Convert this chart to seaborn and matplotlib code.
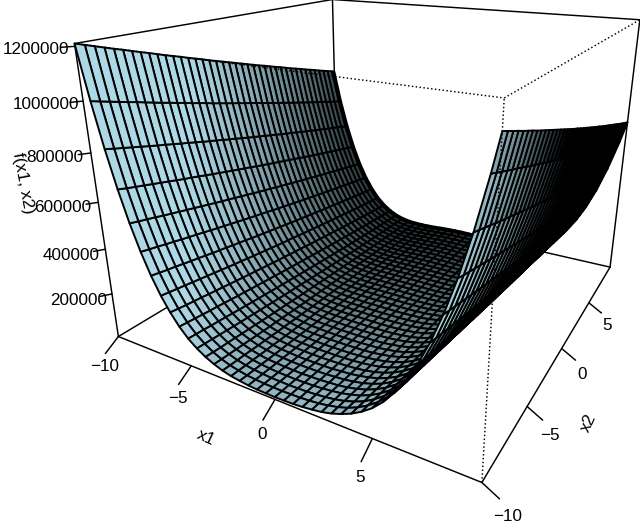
import numpy as np
import matplotlib
matplotlib.use("Agg")
import matplotlib.pyplot as plt
from mpl_toolkits.mplot3d import proj3d
import seaborn as sns

# grid positions, z read in thousands
x_grid = [-10,-9.5,-9,-8.5,-8,-7.5,-7,-6.5,-6,-5.5,-5,-4.5,-4,-3.5,-3,-2.5,-2,-1.5,-1,-0.5,0,
          0.5,1,1.5,2,2.5,3,3.5,4,4.5,5,5.5,6,6.5,7,7.5,8,8.5,9,9.5,9.8]

r100 = [1210,1199,1188,1177,1166,1156,1145,1134,1124,1113,1102,1092,1082,1071,1061,1051,1040,1030,1020,1010,1000,990,980,970,960,951,941,931,922,912,902,893,884,874,865,856,846,837,828,819,814]
r98 = [1124,1114,1103,1093,1082,1072,1062,1051,1041,1031,1021,1011,1001,991,981,971,961,951,942,932,922,913,903,894,884,875,866,856,847,838,829,820,811,802,793,784,775,766,758,749,744]
r95 = [1005,995,985,975,965,956,946,936,926,917,907,898,888,879,870,860,851,842,833,824,815,806,797,788,779,770,761,753,744,735,727,718,710,701,693,685,677,668,660,652,647]
r90 = [828,819,810,801,792,783,774,766,757,748,740,731,722,714,706,697,689,681,672,664,656,648,640,632,624,616,608,601,593,585,578,570,562,555,548,540,533,526,518,511,507]
r85 = [677,668,660,652,644,636,628,620,612,605,597,589,581,574,566,559,551,544,537,529,522,515,508,501,494,487,480,473,466,459,452,446,439,432,426,419,413,406,400,394,390]
r80 = [548,540,533,526,518,511,504,497,490,483,476,469,462,456,449,442,436,429,422,416,410,403,397,391,384,378,372,366,360,354,348,342,336,331,325,319,314,308,302,297,294]
r75 = [439,432,426,419,413,406,400,394,388,381,375,369,363,357,351,345,339,334,328,322,316,311,305,300,294,289,284,278,273,268,263,258,253,248,243,238,233,228,223,219,216]
r70 = [348,342,336,331,325,319,314,308,302,297,292,286,281,276,270,265,260,255,250,245,240,235,230,226,221,216,212,207,202,198,194,189,185,181,176,172,168,164,160,156,154]
r65 = [273,268,263,258,253,248,243,238,233,228,223,219,214,209,205,200,196,191,187,183,179,174,170,166,162,158,154,150,146,143,139,135,131,128,124,121,117,114,111,107,105]
r60 = [212,207,202,198,194,189,185,181,176,172,168,164,160,156,152,148,144,141,137,133,130,126,122,119,116,112,109,106,102,99,96,93,90,87,84,81,78,76,73,70,69]
r55 = [162,158,154,150,146,143,139,135,131,128,124,121,117,114,111,107,104,101,98,95,92,89,86,83,80,77,74,72,69,66,64,61,59,56,54,52,50,47,45,43,42]
r50 = [122,119,116,112,109,106,102,99,96,93,90,87,84,81,78,76,73,70,68,65,62,60,58,55,53,51,48,46,44,42,40,38,36,34,32,31,29,27,26,24,23]
r45 = [92,89,86,83,80,77,74,72,69,66,64,61,59,56,54,52,50,47,45,43,41,39,37,35,33,32,30,28,26,25,23,22,20,19,18,16,15,14,13,12,11]
r40 = [68,65,62,60,58,55,53,51,48,46,44,42,40,38,36,34,32,31,29,27,26,24,22,21,20,18,17,16,14,13,12,11,10,9,8,7,6,6,5,4,4]
r35 = [50,47,45,43,41,39,37,35,33,32,30,28,26,25,23,22,20,19,18,16,15,14,13,12,11,10,9,8,7,6,5,5,4,3,3,2,2,1,1,1,1]
r30 = [36,34,32,31,29,27,26,24,22,21,20,18,17,16,14,13,12,11,10,9,8,7,6,6,5,4,4,3,3,2,2,1,1,1,0,0,0,0,0,0,0]
r25 = [26,25,23,22,20,19,18,16,15,14,13,12,11,10,9,8,7,6,5,5,4,3,3,2,2,1,1,1,1,0,0,0,0,0,0,0,0,1,1,1,1]
r20 = [20,18,17,16,14,13,12,11,10,9,8,7,6,6,5,4,4,3,3,2,2,1,1,1,0,0,0,0,0,0,0,0,0,1,1,1,2,2,3,3,3]
r15 = [15,14,13,12,11,10,9,8,7,6,5,5,4,3,3,2,2,1,1,1,1,0,0,0,0,0,0,0,0,1,1,1,1,2,2,3,3,4,5,5,6]
r10 = [12,11,10,9,8,7,6,6,5,4,4,3,3,2,2,1,1,1,0,0,0,0,0,0,0,0,0,1,1,1,2,2,3,3,4,4,5,6,6,7,8]
r05 = [11,10,9,8,7,6,5,5,4,3,3,2,2,1,1,1,1,0,0,0,0,0,0,0,0,1,1,1,1,2,2,3,3,4,5,5,6,7,8,9,9]
r00 = [10,9,8,7,6,6,5,4,4,3,3,2,2,1,1,1,0,0,0,0,0,0,0,0,0,1,1,1,2,2,3,3,4,4,5,6,6,7,8,9,10]
z_rows = [r100,r95,r90,r85,r80,r75,r70,r65,r60,r55,r50,r45,r40,r35,r30,r25,r20,r15,r10,r05,r00,
          r05,r10,r15,r20,r25,r30,r35,r40,r45,r50,r55,r60,r65,r70,r75,r80,r85,r90,r95,r98]

x1_ticks = [-10,-5,0,5]
x2_ticks = [-10,-5,0,5]
z_ticks = [200000,400000,600000,800000,1000000,1200000]
x_lo, x_hi = -10, 9.8
z_top = 1210000

sns.set_theme(style="white")
plt.rcParams['font.family'] = ['Liberation Sans', 'DejaVu Sans']

fig = plt.figure(figsize=(6.4,5.21), dpi=100)
L = 593.1
ax = fig.add_axes([81.8/640, 42.7/521, L/640, L/521], projection='3d')
ax.computed_zorder = False
ax.set_xlim(x_lo,x_hi,view_margin=0)
ax.set_ylim(x_lo,x_hi,view_margin=0)
ax.set_zlim(0,z_top,view_margin=0)
ax.view_init(elev=19.95, azim=-60.16)
ax.set_proj_type('persp', focal_length=0.221)
ax.set_box_aspect((1,1.014,0.748))
ax.set_axis_off()

X, Y = np.meshgrid(x_grid, x_grid, indexing='ij')
Z = np.array(z_rows)*1000.0

# the reference mesh is finer than this one, so small facets go dark on their own
ax.apply_aspect()
px, py, _ = proj3d.proj_transform(X.ravel(), Y.ravel(), Z.ravel(), ax.get_proj())
pts = ax.transData.transform(np.column_stack([px, py])).reshape(X.shape + (2,))
side_a = np.linalg.norm(np.diff(pts, axis=1), axis=2)
side_b = np.linalg.norm(np.diff(pts, axis=0), axis=2)
w = 0.66*(side_a[:-1,:] + side_a[1:,:])/2
h = 0.66*(side_b[:,:-1] + side_b[:,1:])/2
open_part = np.clip(1-2.2/w, 0, 1)*np.clip(1-2.2/h, 0, 1)
open_part = np.clip(open_part/0.5, 0, 1)
blue = np.array(matplotlib.colors.to_rgb('#add8e6'))
faces = np.dstack([blue[0]*open_part, blue[1]*open_part, blue[2]*open_part, np.ones_like(open_part)])

surf = ax.plot_surface(X, Y, Z, rstride=1, cstride=1, facecolors=faces, edgecolor='black',
                       linewidth=1.4, shade=False, zorder=2, clip_on=False)

def edge(p, q, style='-', zo=3):
    ax.plot([p[0],q[0]],[p[1],q[1]],[p[2],q[2]],color='black',lw=1.05,ls=style,zorder=zo,clip_on=False)

def label(x, y, z, s, zdir=None):
    ax.text(x,y,z,s,zdir=zdir,ha='center',va='center',fontsize=12.3,color='black',clip_on=False)

# back of the box, under the surface
edge((x_lo,x_hi,0),(x_lo,x_hi,z_top),'-',1)
edge((x_lo,x_lo,0),(x_lo,x_hi,0),'-',1)
edge((x_lo,x_hi,0),(x_hi,x_hi,0),'-',1)
# solid edges
edge((x_lo,x_lo,z_top),(x_lo,x_hi,z_top))
edge((x_lo,x_hi,z_top),(x_hi,x_hi,z_top))
edge((x_lo,x_lo,0),(x_lo,x_lo,z_top))
edge((x_hi,x_hi,0),(x_hi,x_hi,z_top))
edge((x_lo,x_lo,0),(x_hi,x_lo,0))
edge((x_hi,x_lo,0),(x_hi,x_hi,0))
# dotted front edges
edge((x_hi,x_lo,0),(x_hi,x_lo,z_top),':')
edge((x_lo,x_lo,z_top),(x_hi,x_lo,z_top),':')
edge((x_hi,x_lo,z_top),(x_hi,x_hi,z_top),':')

for t in x1_ticks:
    edge((t,x_lo,0),(t,x_lo-0.87,-40000))
    label(t,x_lo-1.0,-95000,str(t).replace('-','\u2212'))
for t in x2_ticks:
    edge((x_hi,t,0),(x_hi+0.73,t,-35000))
    label(x_hi+1.1,t,-90000,str(t).replace('-','\u2212'))
for t in z_ticks:
    edge((x_lo,x_lo,t),(x_lo-0.3,x_lo-0.44,t))
    label(x_lo-0.85,x_lo-1.25,t,str(t))
label(-0.9,-13.3,0,'x1',(1,0,0))
label(11.5,0,-310000,'x2',(0,1,0))
label(x_lo-1.67,x_lo-2.43,720000,'f(x1, x2)',(0,0,-100000))

fig.savefig("out.png", dpi=100)
